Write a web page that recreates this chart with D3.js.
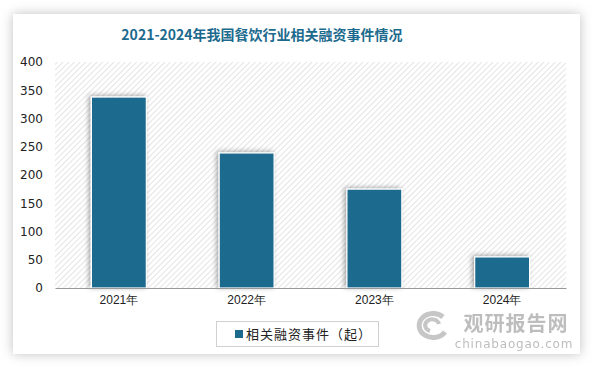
<!DOCTYPE html>
<html>
<head>
<meta charset="utf-8">
<script src="https://cdn.jsdelivr.net/npm/d3@7"></script>
<style>
	body {margin: 0; background: #fff;}
	svg {display: block; font-family: "Noto Sans CJK SC", "DejaVu Sans", sans-serif;}
</style>
</head>
<body>
<div id="chart"></div>
<script>
//Data
var years = ["2021年", "2022年", "2023年", "2024年"];
var events = [338, 239, 175, 55];
var yTicks = [0, 50, 100, 150, 200, 250, 300, 350, 400];
var seriesName = "相关融资事件（起）";
var title = "2021-2024年我国餐饮行业相关融资事件情况";

var width = 594, height = 369;
var plot = {left: 55, right: 566, top: 62, bottom: 288};
var barColor = "#1c6a8e";

var svg = d3.select("#chart").append("svg")
	.attr("width", width)
	.attr("height", height);

var defs = svg.append("defs");

//card shadow
var cardShadow = defs.append("filter").attr("id", "cardShadow")
	.attr("x", "-10%").attr("y", "-10%").attr("width", "120%").attr("height", "120%");
cardShadow.append("feDropShadow")
	.attr("dx", 0).attr("dy", 0).attr("stdDeviation", 6)
	.attr("flood-color", "#000").attr("flood-opacity", 0.25);

//bar shadow
var barShadow = defs.append("filter").attr("id", "barShadow")
	.attr("x", "-30%").attr("y", "-30%").attr("width", "160%").attr("height", "160%");
barShadow.append("feDropShadow")
	.attr("dx", -2).attr("dy", -1).attr("stdDeviation", 2.5)
	.attr("flood-color", "#000").attr("flood-opacity", 0.35);

//hatch pattern for plot area (lines running top-left to bottom-right)
var hatch = defs.append("pattern").attr("id", "hatch")
	.attr("patternUnits", "userSpaceOnUse")
	.attr("width", 4).attr("height", 4)
	.attr("patternTransform", "rotate(45)");
hatch.append("rect").attr("width", 4).attr("height", 4).attr("fill", "#fff");
hatch.append("line")
	.attr("x1", 0).attr("y1", 0).attr("x2", 0).attr("y2", 4)
	.attr("stroke", "#d6d6d6").attr("stroke-width", 1.3);

//card
svg.append("rect")
	.attr("x", 13).attr("y", 14)
	.attr("width", 567).attr("height", 340)
	.attr("fill", "#fff")
	.attr("filter", "url(#cardShadow)");

//title
svg.append("text")
	.attr("x", 262).attr("y", 40)
	.attr("text-anchor", "middle")
	.attr("fill", "#1c6a8e")
	.attr("font-size", 14)
	.attr("font-weight", "bold")
	.text(title);

//Scales
var x = d3.scaleBand()
	.domain(years)
	.range([plot.left, plot.right])
	.paddingInner(0.57)
	.paddingOuter(0.285);

var y = d3.scaleLinear()
	.domain([0, 400])
	.range([plot.bottom, plot.top]);

//plot background
svg.append("rect")
	.attr("x", plot.left).attr("y", plot.top)
	.attr("width", plot.right - plot.left)
	.attr("height", plot.bottom - plot.top)
	.attr("fill", "url(#hatch)");

//Watermark (one text block, two lines)
var wm = svg.append("g").attr("class", "watermark").attr("opacity", 0.55);
var wmText = wm.append("text")
	.attr("text-anchor", "middle")
	.attr("fill", "#888");
wmText.append("tspan")
	.attr("x", 516).attr("y", 331)
	.attr("font-size", 20)
	.attr("font-weight", "bold")
	.attr("letter-spacing", 1)
	.text("观研报告网");
wmText.append("tspan")
	.attr("x", 514).attr("y", 348)
	.attr("font-size", 12)
	.attr("font-family", "DejaVu Sans, sans-serif")
	.attr("letter-spacing", 0.8)
	.text("chinabaogao.com");
//logo swirl
var logo = wm.append("g").attr("transform", "translate(433,326)")
	.attr("fill", "none").attr("stroke", "#999");
logo.append("path")
	.attr("d", "M10,-9 A14,12 0 1,0 12,6")
	.attr("stroke-width", 5);
logo.append("path")
	.attr("d", "M-3,5 A7,6 0 1,1 6,-2")
	.attr("stroke-width", 4);

//Bars
svg.append("g").attr("class", "bars")
	.selectAll("rect")
	.data(events)
	.enter().append("rect")
		.attr("x", function(d, i) {return x(years[i]);})
		.attr("y", function(d) {return y(d);})
		.attr("width", x.bandwidth())
		.attr("height", function(d) {return y(0) - y(d);})
		.attr("fill", barColor)
		.attr("stroke", "#fff")
		.attr("stroke-width", 1.2)
		.attr("filter", "url(#barShadow)");

//Y axis
var yAxis = svg.append("g")
	.attr("transform", "translate(" + plot.left + ",0)")
	.call(d3.axisLeft(y).tickValues(yTicks).tickSize(0).tickPadding(12));
yAxis.select(".domain").remove();
yAxis.selectAll("text")
	.attr("font-size", 12)
	.attr("fill", "#222")
	.attr("font-family", "DejaVu Sans, sans-serif");

//X axis
var xAxis = svg.append("g")
	.attr("transform", "translate(0," + plot.bottom + ")")
	.call(d3.axisBottom(x).tickSize(0).tickPadding(7));
xAxis.select(".domain").attr("stroke", "#999").attr("stroke-width", 1.2);
xAxis.selectAll("text")
	.attr("font-size", 12)
	.attr("fill", "#222");

//Legend
var legend = svg.append("g").attr("class", "legend");
legend.append("rect")
	.attr("x", 216.5).attr("y", 321.5)
	.attr("width", 162).attr("height", 25)
	.attr("fill", "#fff")
	.attr("stroke", "#d0d0d0");
legend.append("rect")
	.attr("x", 235).attr("y", 330)
	.attr("width", 8).attr("height", 8)
	.attr("fill", barColor);
legend.append("text")
	.attr("x", 246).attr("y", 339)
	.attr("font-size", 13)
	.attr("fill", "#222")
	.attr("letter-spacing", 1)
	.text(seriesName);
</script>
</body>
</html>
